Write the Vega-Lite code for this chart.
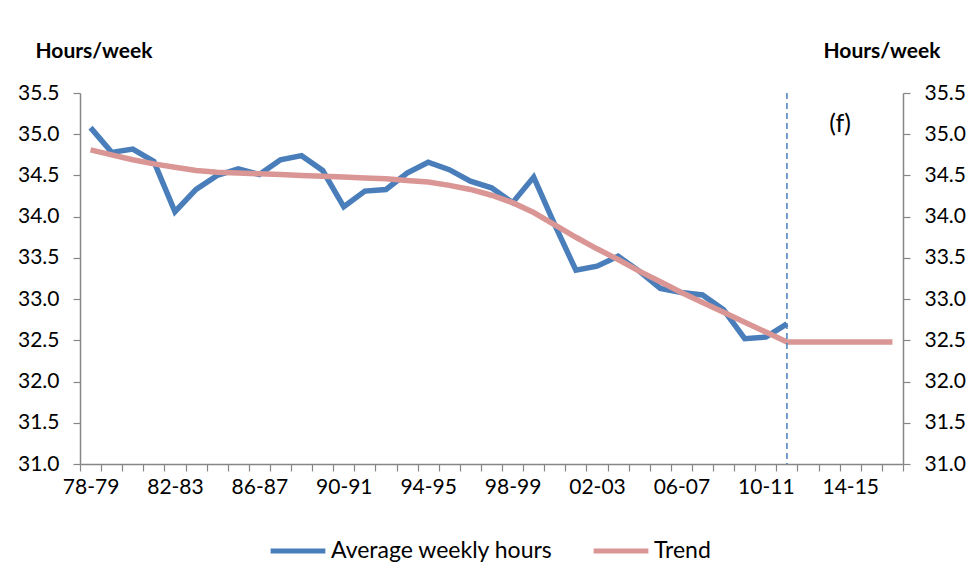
{
  "$schema": "https://vega.github.io/schema/vega-lite/v6.json",
  "width": 823,
  "height": 371,
  "autosize": "none",
  "padding": {"left": 80, "top": 93, "right": 65, "bottom": 119},
  "background": "white",
  "config": {
    "view": {"stroke": null},
    "font": "Lato",
    "axis": {
      "domainColor": "#868686",
      "domainWidth": 1.5,
      "tickColor": "#868686",
      "tickWidth": 1.2,
      "tickSize": 7,
      "grid": false,
      "labelColor": "#000000",
      "labelFont": "Lato",
      "labelFontSize": 21,
      "titleFont": "Lato",
      "titleColor": "#000000"
    }
  },
  "datasets": {
    "hours": [
      {"period": "78-79", "series": "Average weekly hours", "hours": 35.08},
      {"period": "79-80", "series": "Average weekly hours", "hours": 34.78},
      {"period": "80-81", "series": "Average weekly hours", "hours": 34.82},
      {"period": "81-82", "series": "Average weekly hours", "hours": 34.67},
      {"period": "82-83", "series": "Average weekly hours", "hours": 34.06},
      {"period": "83-84", "series": "Average weekly hours", "hours": 34.33},
      {"period": "84-85", "series": "Average weekly hours", "hours": 34.5},
      {"period": "85-86", "series": "Average weekly hours", "hours": 34.58},
      {"period": "86-87", "series": "Average weekly hours", "hours": 34.51},
      {"period": "87-88", "series": "Average weekly hours", "hours": 34.69},
      {"period": "88-89", "series": "Average weekly hours", "hours": 34.74},
      {"period": "89-90", "series": "Average weekly hours", "hours": 34.56},
      {"period": "90-91", "series": "Average weekly hours", "hours": 34.12},
      {"period": "91-92", "series": "Average weekly hours", "hours": 34.31},
      {"period": "92-93", "series": "Average weekly hours", "hours": 34.33},
      {"period": "93-94", "series": "Average weekly hours", "hours": 34.53},
      {"period": "94-95", "series": "Average weekly hours", "hours": 34.66},
      {"period": "95-96", "series": "Average weekly hours", "hours": 34.57},
      {"period": "96-97", "series": "Average weekly hours", "hours": 34.43},
      {"period": "97-98", "series": "Average weekly hours", "hours": 34.35},
      {"period": "98-99", "series": "Average weekly hours", "hours": 34.17},
      {"period": "99-00", "series": "Average weekly hours", "hours": 34.48},
      {"period": "00-01", "series": "Average weekly hours", "hours": 33.9},
      {"period": "01-02", "series": "Average weekly hours", "hours": 33.35},
      {"period": "02-03", "series": "Average weekly hours", "hours": 33.4},
      {"period": "03-04", "series": "Average weekly hours", "hours": 33.52},
      {"period": "04-05", "series": "Average weekly hours", "hours": 33.34},
      {"period": "05-06", "series": "Average weekly hours", "hours": 33.13},
      {"period": "06-07", "series": "Average weekly hours", "hours": 33.08},
      {"period": "07-08", "series": "Average weekly hours", "hours": 33.05},
      {"period": "08-09", "series": "Average weekly hours", "hours": 32.87},
      {"period": "09-10", "series": "Average weekly hours", "hours": 32.52},
      {"period": "10-11", "series": "Average weekly hours", "hours": 32.54},
      {"period": "11-12", "series": "Average weekly hours", "hours": 32.7},
      {"period": "78-79", "series": "Trend", "hours": 34.81},
      {"period": "79-80", "series": "Trend", "hours": 34.75},
      {"period": "80-81", "series": "Trend", "hours": 34.69},
      {"period": "81-82", "series": "Trend", "hours": 34.64},
      {"period": "82-83", "series": "Trend", "hours": 34.6},
      {"period": "83-84", "series": "Trend", "hours": 34.56},
      {"period": "84-85", "series": "Trend", "hours": 34.54},
      {"period": "85-86", "series": "Trend", "hours": 34.53},
      {"period": "86-87", "series": "Trend", "hours": 34.52},
      {"period": "87-88", "series": "Trend", "hours": 34.51},
      {"period": "88-89", "series": "Trend", "hours": 34.5},
      {"period": "89-90", "series": "Trend", "hours": 34.49},
      {"period": "90-91", "series": "Trend", "hours": 34.48},
      {"period": "91-92", "series": "Trend", "hours": 34.47},
      {"period": "92-93", "series": "Trend", "hours": 34.46},
      {"period": "93-94", "series": "Trend", "hours": 34.44},
      {"period": "94-95", "series": "Trend", "hours": 34.42},
      {"period": "95-96", "series": "Trend", "hours": 34.38},
      {"period": "96-97", "series": "Trend", "hours": 34.33},
      {"period": "97-98", "series": "Trend", "hours": 34.26},
      {"period": "98-99", "series": "Trend", "hours": 34.17},
      {"period": "99-00", "series": "Trend", "hours": 34.05},
      {"period": "00-01", "series": "Trend", "hours": 33.9},
      {"period": "01-02", "series": "Trend", "hours": 33.75},
      {"period": "02-03", "series": "Trend", "hours": 33.61},
      {"period": "03-04", "series": "Trend", "hours": 33.48},
      {"period": "04-05", "series": "Trend", "hours": 33.34},
      {"period": "05-06", "series": "Trend", "hours": 33.21},
      {"period": "06-07", "series": "Trend", "hours": 33.08},
      {"period": "07-08", "series": "Trend", "hours": 32.96},
      {"period": "08-09", "series": "Trend", "hours": 32.84},
      {"period": "09-10", "series": "Trend", "hours": 32.72},
      {"period": "10-11", "series": "Trend", "hours": 32.6},
      {"period": "11-12", "series": "Trend", "hours": 32.48},
      {"period": "12-13", "series": "Trend", "hours": 32.48},
      {"period": "13-14", "series": "Trend", "hours": 32.48},
      {"period": "14-15", "series": "Trend", "hours": 32.48},
      {"period": "15-16", "series": "Trend", "hours": 32.48},
      {"period": "16-17", "series": "Trend", "hours": 32.48}
    ],
    "marker": [{"period": "11-12", "note": "(f)", "notePeriod": "13-14", "noteHours": 35.13}]
  },
  "resolve": {"axis": {"y": "independent"}},
  "layer": [
    {
      "data": {"name": "hours"},
      "mark": {"type": "line", "strokeWidth": 5.5},
      "encoding": {
        "x": {
          "field": "period",
          "type": "ordinal",
          "sort": null,
          "bandPosition": 0.5,
          "scale": {"type": "band", "paddingInner": 0, "paddingOuter": 0,
            "domain": ["78-79","79-80","80-81","81-82","82-83","83-84","84-85","85-86","86-87","87-88","88-89","89-90","90-91","91-92","92-93","93-94","94-95","95-96","96-97","97-98","98-99","99-00","00-01","01-02","02-03","03-04","04-05","05-06","06-07","07-08","08-09","09-10","10-11","11-12","12-13","13-14","14-15","15-16","16-17"]},
          "axis": {
            "title": null,
            "tickBand": "extent",
            "labelAngle": 0,
            "labelOverlap": false,
            "labelPadding": 5,
            "labelExpr": "(toNumber(substring(datum.value,0,2))+2)%4==0 ? datum.value : ''"
          }
        },
        "y": {
          "field": "hours",
          "type": "quantitative",
          "scale": {"domain": [31, 35.5], "zero": false, "nice": false},
          "axis": {
            "orient": "left",
            "values": [31, 31.5, 32, 32.5, 33, 33.5, 34, 34.5, 35, 35.5],
            "format": ".1f",
            "labelPadding": 14,
            "title": "Hours/week",
            "titleAngle": 0,
            "titleAlign": "left",
            "titleBaseline": "alphabetic",
            "titleFontSize": 21,
            "titleFontWeight": "bold",
            "titleX": -45,
            "titleY": -36
          }
        },
        "color": {
          "field": "series",
          "type": "nominal",
          "scale": {"domain": ["Average weekly hours", "Trend"], "range": ["#4A7EBB", "#D99694"]},
          "legend": {
            "title": null,
            "orient": "none",
            "legendX": 188,
            "legendY": 428,
            "direction": "horizontal",
            "symbolType": "stroke",
            "symbolSize": 3000,
            "symbolStrokeWidth": 5,
            "labelFontSize": 23,
            "labelFont": "Lato",
            "labelColor": "#000000",
            "labelLimit": 400,
            "labelOffset": 3,
            "columnPadding": 30
          }
        }
      }
    },
    {
      "data": {"name": "marker"},
      "mark": {"type": "rule", "color": "#4A7EBB", "strokeWidth": 1.5, "strokeDash": [6, 4]},
      "encoding": {"x": {"field": "period", "type": "ordinal", "bandPosition": 0.5}}
    },
    {
      "data": {"name": "marker"},
      "mark": {"type": "text", "fontSize": 25, "font": "Lato", "color": "#000000", "dx": 11},
      "encoding": {
        "text": {"field": "note"},
        "x": {"field": "notePeriod", "type": "ordinal", "bandPosition": 0.5},
        "y": {
          "field": "noteHours",
          "type": "quantitative",
          "axis": {
            "orient": "right",
            "values": [31, 31.5, 32, 32.5, 33, 33.5, 34, 34.5, 35, 35.5],
            "format": ".1f",
            "labelPadding": 14,
            "title": "Hours/week",
            "titleAngle": 0,
            "titleAlign": "left",
            "titleBaseline": "alphabetic",
            "titleFontSize": 21,
            "titleFontWeight": "bold",
            "titleX": -80,
            "titleY": -36
          }
        }
      }
    }
  ]
}
